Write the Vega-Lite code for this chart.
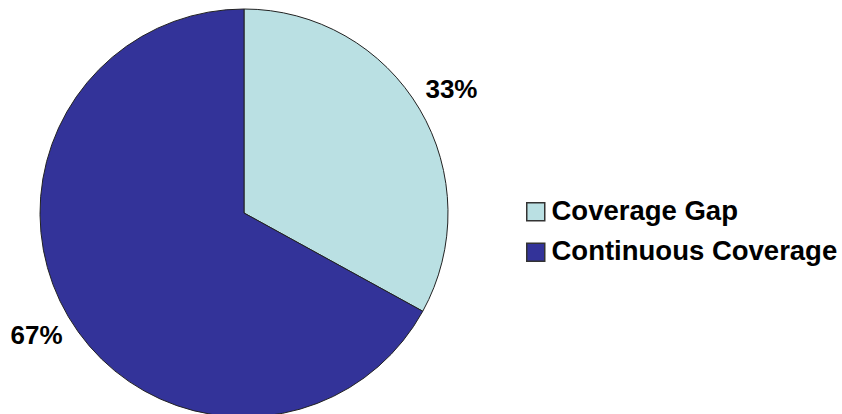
{
  "$schema": "https://vega.github.io/schema/vega-lite/v6.json",
  "width": 488,
  "height": 414,
  "autosize": "none",
  "padding": {"left": 0, "top": 0, "right": 354, "bottom": 0},
  "background": "white",
  "config": {"view": {"stroke": null}},
  "data": {"values": [
    {"category": "Coverage Gap", "value": 33, "label": "33%", "order": 1},
    {"category": "Continuous Coverage", "value": 67, "label": "67%", "order": 2}
  ]},
  "encoding": {
    "theta": {"field": "value", "type": "quantitative", "stack": true},
    "order": {"field": "order", "type": "quantitative"}
  },
  "layer": [
    {
      "mark": {"type": "arc", "outerRadius": 204, "stroke": "#222222", "strokeWidth": 1, "yOffset": 6},
      "encoding": {
        "color": {
          "field": "category",
          "type": "nominal",
          "sort": ["Coverage Gap", "Continuous Coverage"],
          "scale": {"domain": ["Coverage Gap", "Continuous Coverage"], "range": ["#BAE0E3", "#333399"]},
          "legend": {
            "title": null,
            "orient": "none",
            "legendX": 522,
            "legendY": 198,
            "symbolType": "square",
            "symbolSize": 324,
            "symbolStrokeColor": "#333333",
            "symbolStrokeWidth": 1.5,
            "labelFont": "Liberation Sans",
            "labelFontSize": 27.5,
            "labelFontWeight": "bold",
            "labelColor": "#000000",
            "labelLimit": 400,
            "labelOffset": 2,
            "rowPadding": 11.5
          }
        }
      }
    },
    {
      "mark": {"type": "text", "radius": 241, "yOffset": 6, "font": "Liberation Sans", "fontSize": 26, "fontWeight": "bold", "color": "#000000"},
      "encoding": {"text": {"field": "label", "type": "nominal"}}
    }
  ]
}
